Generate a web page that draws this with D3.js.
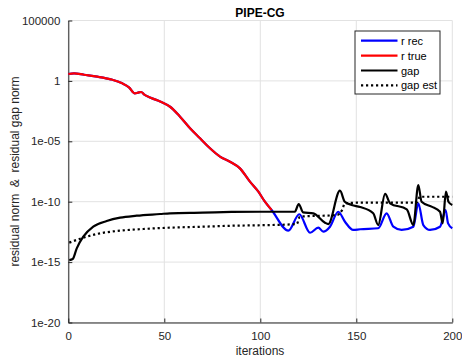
<!DOCTYPE html>
<html>
<head>
<meta charset="utf-8">
<script src="https://cdn.jsdelivr.net/npm/d3@7"></script>
<style>
  body { margin: 0; background: #fff; }
  text { font-family: "Liberation Sans", Arial, sans-serif; }
</style>
</head>
<body>
<div id="chart"></div>
<script>
// Series: [iteration, log10 of the norm]
const rTrue = [
  [0, 0.57], [3, 0.63], [8.2, 0.51], [15.1, 0.35], [22.1, 0.13], [28.1, -0.2],
  [31.6, -0.53], [34.7, -1.03], [36.3, -0.97], [38, -0.92], [39.4, -1.11],
  [42.9, -1.39], [48.1, -1.72], [53, -2.14], [58.2, -2.96], [63.4, -3.92],
  [68.6, -4.75], [73.8, -5.58], [79, -6.27], [84.2, -6.69], [89.4, -7.24],
  [94.6, -8.34], [99, -9.17], [102.4, -10.0], [105.9, -10.69]
];
const rRec = rTrue.concat([
  [114.6, -12.4], [120.3, -11.04], [125.9, -12.57], [130.2, -12.15], [132.8, -12.48],
  [136.3, -12.07], [140.6, -10.83], [144.1, -11.66], [148.4, -12.34], [152, -12.28],
  [161.4, -12.2], [165.8, -10.96], [169.3, -12.07], [173.6, -12.34], [179.7, -12.07],
  [182.3, -10.13], [184.9, -11.93], [188.4, -12.34], [193.6, -12.07], [196.5, -10.69],
  [197.8, -11.79], [200, -12.2]
]);
const gap = [
  [0.5, -14.83], [2.3, -14.74], [4.4, -13.86], [7.8, -12.9], [13, -12.07],
  [20, -11.6], [27, -11.32], [35.6, -11.16], [47.8, -11.02], [53, -10.96],
  [70, -10.91], [85, -10.85], [100, -10.83], [118, -10.83], [120, -10.19],
  [122.3, -10.88], [127.6, -10.96], [133.7, -11.74], [135.4, -11.85], [141.5, -9.09],
  [144, -10.0], [147.6, -10.27], [152, -10.44], [158.8, -10.96], [161.4, -11.93],
  [165, -9.36], [167.6, -10.13], [176.3, -10.63], [179.7, -11.93], [182.3, -8.62],
  [184, -10.0], [189.2, -10.41], [193.6, -10.83], [195, -11.79], [196.7, -9.17],
  [198, -10.0], [200, -10.27]
];
const gapEst = [
  [0.5, -13.39], [7.8, -12.98], [16.5, -12.62], [27, -12.4], [39, -12.26],
  [53, -12.15], [70, -12.07], [85, -11.99], [100, -11.95], [119, -11.85],
  [120.6, -11.24], [140, -11.1], [142.6, -10.69], [144.1, -10.13], [152, -10.08],
  [181.4, -10.08], [183.1, -9.59], [200, -9.59]
];

const xTicks = [0, 50, 100, 150, 200];
const yTicks = [1e5, 1, 1e-5, 1e-10, 1e-15, 1e-20];
const yTickLabels = ["100000", "1", "1e-05", "1e-10", "1e-15", "1e-20"];
const seriesNames = ["r rec", "r true", "gap", "gap est"];

drawChart();

function drawChart() {
  const w = 462, h = 358;
  const m = { left: 68.3, right: 462 - 452.3, top: 20.5, bottom: 358 - 322.5 };

  const x = d3.scaleLinear().domain([0, 200]).range([m.left, w - m.right]);
  const y = d3.scaleLog().domain([1e-20, 1e5]).range([h - m.bottom, m.top]);

  const svg = d3.select("#chart").append("svg")
    .attr("width", w).attr("height", h);

  // grid
  const grid = svg.append("g").attr("stroke", "#e2e2e2").attr("stroke-width", 1);
  grid.selectAll(".gx").data(xTicks).enter().append("line")
    .attr("x1", d => x(d)).attr("x2", d => x(d))
    .attr("y1", m.top).attr("y2", h - m.bottom);
  grid.selectAll(".gy").data(yTicks).enter().append("line")
    .attr("x1", m.left).attr("x2", w - m.right)
    .attr("y1", d => y(d)).attr("y2", d => y(d));

  // axes (ticks inside, like matlab)
  const xAxis = svg.append("g")
    .attr("transform", `translate(0,${h - m.bottom})`)
    .call(d3.axisBottom(x).tickValues(xTicks).tickSizeInner(-4).tickSizeOuter(0).tickPadding(9));
  const yAxis = svg.append("g")
    .attr("transform", `translate(${m.left},0)`)
    .call(d3.axisLeft(y).tickValues(yTicks).tickSizeInner(-4).tickSizeOuter(0).tickPadding(8)
      .tickFormat((d, i) => yTickLabels[i]));
  [xAxis, yAxis].forEach(a => {
    a.selectAll("path, line").attr("stroke", "#262626");
    a.selectAll("text").attr("fill", "#262626").style("font-size", "11.5px");
  });

  const line = d3.line().curve(d3.curveMonotoneX)
    .x(d => x(d[0])).y(d => y(Math.pow(10, d[1])));
  const plot = svg.append("g").attr("fill", "none").attr("stroke-width", 2.2)
    .attr("stroke-linejoin", "round");

  plot.append("path").datum(rRec).attr("d", line).attr("stroke", "#0000ff");
  plot.append("path").datum(rTrue).attr("d", line).attr("stroke", "#ff0000");
  plot.append("path").datum(gap).attr("d", line).attr("stroke", "#000");
  plot.append("path").datum(gapEst).attr("d", line).attr("stroke", "#000")
    .attr("stroke-dasharray", "2.2,2.8");

  // title and labels
  svg.append("text").attr("x", 260).attr("y", 16.5).attr("text-anchor", "middle")
    .style("font-size", "12px").style("font-weight", "bold").attr("fill", "#000")
    .text("PIPE-CG");
  svg.append("text").attr("x", 260).attr("y", 355).attr("text-anchor", "middle")
    .style("font-size", "12px").attr("fill", "#262626").text("iterations");
  svg.append("text")
    .attr("transform", `translate(18.5,${(m.top + h - m.bottom) / 2}) rotate(-90)`)
    .attr("text-anchor", "middle").style("font-size", "12px").style("white-space", "pre")
    .attr("fill", "#262626").text("residual norm  &  residual gap norm");

  // legend
  const leg = svg.append("g");
  leg.append("rect").attr("x", 355).attr("y", 31).attr("width", 85).attr("height", 63)
    .attr("fill", "#fff").attr("stroke", "#262626").attr("stroke-width", 1);
  const styles = [
    { c: "#0000ff", dash: null }, { c: "#ff0000", dash: null },
    { c: "#000", dash: null }, { c: "#000", dash: "2.2,2.8" }
  ];
  seriesNames.forEach((name, i) => {
    const yy = 40.7 + i * 14.9;
    leg.append("line").attr("x1", 361).attr("x2", 397.5).attr("y1", yy).attr("y2", yy)
      .attr("stroke", styles[i].c).attr("stroke-width", 2.2)
      .attr("stroke-dasharray", styles[i].dash);
    leg.append("text").attr("x", 401).attr("y", yy + 4).style("font-size", "11px")
      .attr("fill", "#000").text(name);
  });
}
</script>
</body>
</html>
